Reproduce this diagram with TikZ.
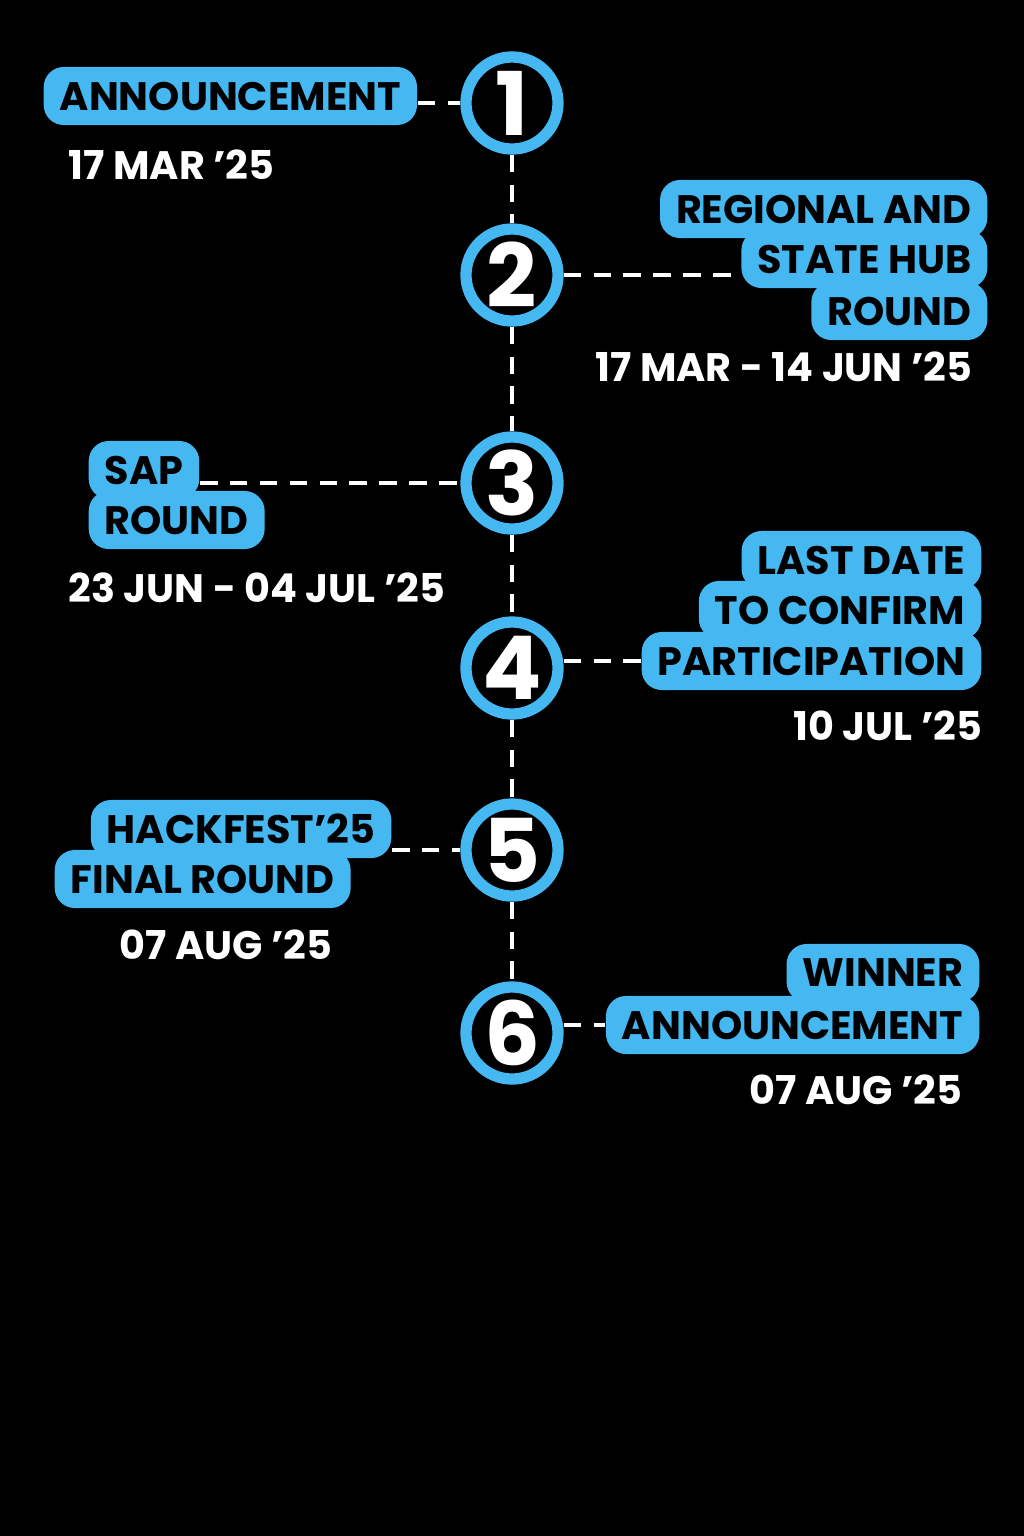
\documentclass[tikz,border=0pt]{standalone}
\usepackage{fontspec}
\setmainfont{Poppins}
\usetikzlibrary{positioning}
\definecolor{hubblue}{HTML}{45B8F2}
\tikzset{stepnum/.style={circle, draw=hubblue, line width=3.2pt, fill=black,
    minimum size=0.92cm, inner sep=0pt, text=white, font=\fontsize{25}{25}\selectfont\bfseries},
  tag/.style={fill=hubblue, rounded corners=0.2cm, inner xsep=0.16cm, minimum height=0.58cm,
    inner ysep=0pt, text=black, font=\fontsize{11.3}{13}\selectfont\bfseries},
  when/.style={text=white, inner sep=0pt, font=\fontsize{11.3}{13}\selectfont\bfseries},
  link/.style={white, line width=1.2pt, dash pattern=on 5pt off 3.5pt}
}
\begin{document}
\begin{tikzpicture}[x=0.01cm,y=-0.01cm]
  \fill[black] (0,0) rectangle (1024,1536);
  \useasboundingbox (0,0) rectangle (1024,1536);

  % timeline circles
  \foreach \n/\y in {1/103,2/275,3/483,4/668,5/850,6/1033}
    \node (s\n) [stepnum] at (512,\y) {\n};
  \foreach \a/\b in {1/2,2/3,3/4,4/5,5/6}
    \draw [link] (s\a) -- (s\b);

  %Step 1
  \node (t1) [tag, anchor=west] at (43,96) {ANNOUNCEMENT};
  \node (d1) [when, anchor=west] at (68,165) {17 MAR ’25};
  \draw [link] (t1.east |- s1) -- (s1);

  %Step 2
  \node (t2a) [tag, anchor=east] at (988,209) {REGIONAL AND};
  \node (t2b) [tag, anchor=east] at (988,259) {STATE HUB};
  \node (t2c) [tag, anchor=east] at (988,311) {ROUND};
  \node (d2) [when, anchor=east] at (973,367) {17 MAR - 14 JUN ’25};
  \draw [link] (s2) -- (s2 -| t2b.west);

  %Step 3
  \node (t3a) [tag, anchor=west] at (88,470) {SAP};
  \node (t3b) [tag, anchor=west] at (88,520) {ROUND};
  \node (d3) [when, anchor=west] at (68,588) {23 JUN - 04 JUL ’25};
  \draw [link] (s3 -| t3a.east) -- (s3);

  %Step 4
  \node (t4a) [tag, anchor=east] at (982,560) {LAST DATE};
  \node (t4b) [tag, anchor=east] at (982,610) {TO CONFIRM};
  \node (t4c) [tag, anchor=east] at (982,661) {PARTICIPATION};
  \node (d4) [when, anchor=east] at (983,726) {10 JUL ’25};
  \draw [link] (s4.east |- t4c) -- (t4c);

  %Step 5
  \node (t5a) [tag, anchor=east] at (392,829) {HACKFEST’25};
  \node (t5b) [tag, anchor=west] at (54,879) {FINAL ROUND};
  \node (d5) [when] at (226,945) {07 AUG ’25};
  \draw [link] (s5 -| t5a.east) -- (s5);

  %Step 6
  \node (t6a) [tag, anchor=east] at (980,973) {WINNER};
  \node (t6b) [tag, anchor=east] at (980,1025) {ANNOUNCEMENT};
  \node (d6) [when, anchor=east] at (963,1090) {07 AUG ’25};
  \draw [link] (s6.east |- t6b) -- (t6b);
\end{tikzpicture}
\end{document}
